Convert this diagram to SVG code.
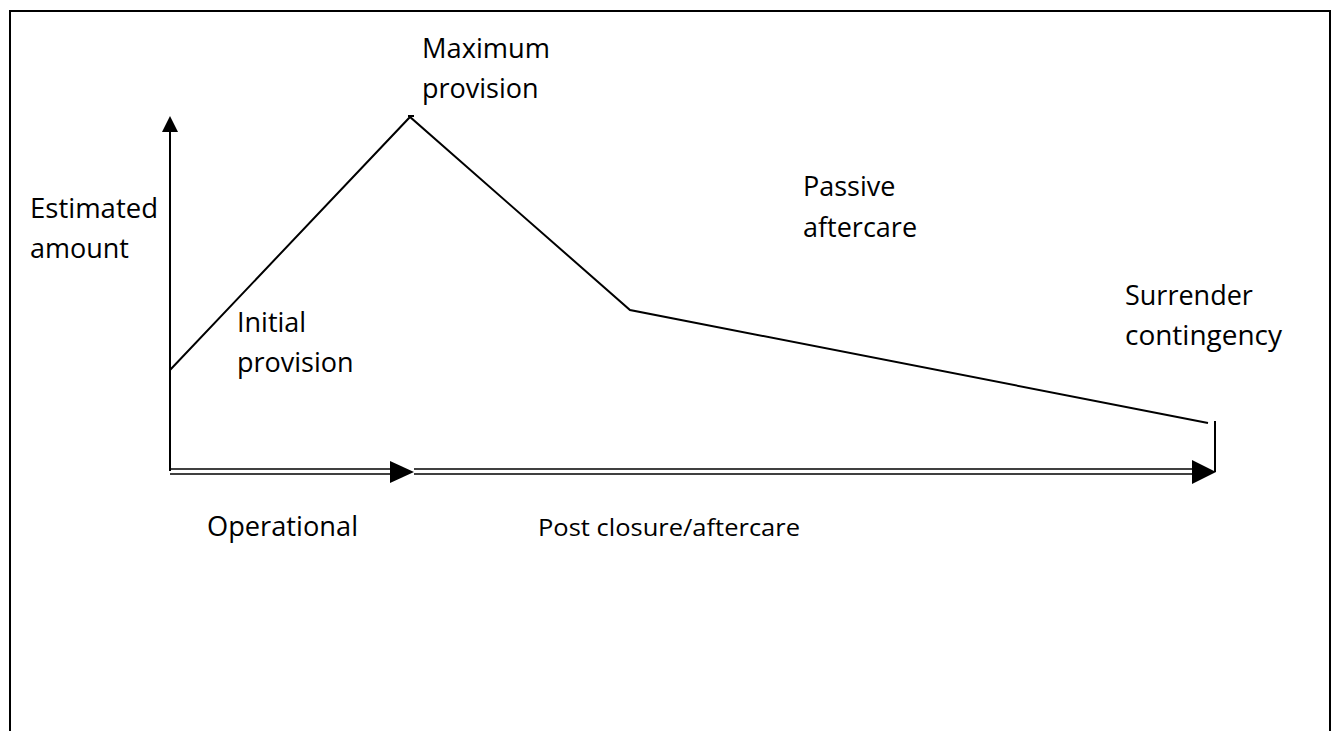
<svg xmlns="http://www.w3.org/2000/svg" width="1333" height="731" viewBox="0 0 1333 731">
<style>
.t{font-family:"Open Sans","Noto Sans",sans-serif;font-size:27px;fill:#000}
.s{font-family:"Open Sans","Noto Sans",sans-serif;font-size:23px;fill:#000}
.ln{fill:none;stroke:#000;stroke-width:2}
.dl{fill:none;stroke:#000;stroke-width:1.6}
.ah{fill:#000;stroke:none}
</style>
<rect x="10" y="11" width="1320" height="740" fill="#fff" stroke="#000" stroke-width="2"/>
<g id="connectors">
<line class="ln" x1="170" y1="471" x2="170" y2="130"/>
<polygon class="ah" points="170,116 162,132 178,132"/>
<line class="dl" x1="170" y1="469" x2="392" y2="469"/>
<line class="dl" x1="170" y1="474" x2="392" y2="474"/>
<polygon class="ah" points="390,461 414,472 390,483"/>
<line class="dl" x1="414" y1="469" x2="1194" y2="469"/>
<line class="dl" x1="414" y1="474" x2="1194" y2="474"/>
<polygon class="ah" points="1192,460 1216,472 1192,484"/>
<polyline class="ln" points="170,370 410,117 630,310 1208,423"/>
<line class="ln" x1="408" y1="116" x2="414" y2="116"/>
<line class="ln" x1="1215" y1="421" x2="1215" y2="472"/>
</g>
<g id="estimated-amount"><text class="t" x="30" y="218" textLength="128" lengthAdjust="spacingAndGlyphs">Estimated</text><text class="t" x="30" y="258">amount</text></g>
<g id="maximum-provision"><text class="t" x="422" y="58" textLength="128" lengthAdjust="spacingAndGlyphs">Maximum</text><text class="t" x="422" y="98">provision</text></g>
<g id="initial-provision"><text class="t" x="237" y="332">Initial</text><text class="t" x="237" y="372">provision</text></g>
<g id="passive-aftercare"><text class="t" x="803" y="196">Passive</text><text class="t" x="803" y="237">aftercare</text></g>
<g id="surrender-contingency"><text class="t" x="1125" y="305">Surrender</text><text class="t" x="1125" y="345" textLength="157" lengthAdjust="spacingAndGlyphs">contingency</text></g>
<g id="operational"><text class="t" x="207" y="536" textLength="151" lengthAdjust="spacingAndGlyphs">Operational</text></g>
<g id="post-closure"><text class="s" x="538" y="536" textLength="262" lengthAdjust="spacingAndGlyphs">Post closure/aftercare</text></g>
</svg>
